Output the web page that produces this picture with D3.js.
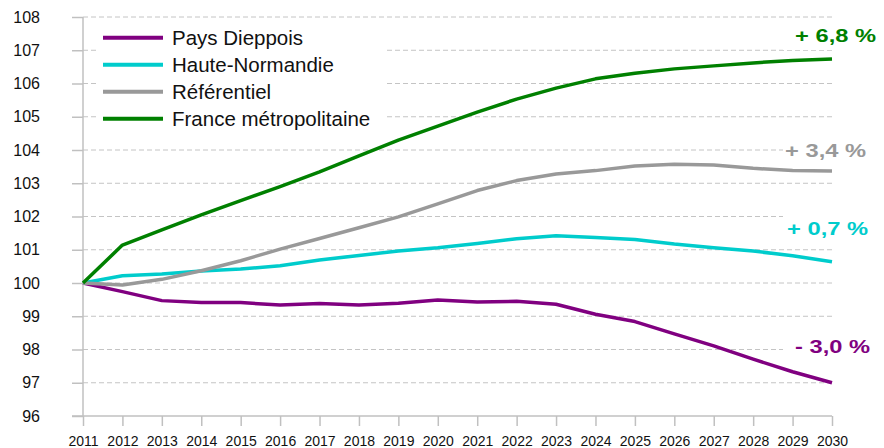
<!DOCTYPE html>
<html>
<head>
<meta charset="utf-8">
<script src="https://cdn.jsdelivr.net/npm/d3@7"></script>
<style>
  body { margin: 0; background: #fff; }
  svg { display: block; font-family: 'Liberation Sans', Arial, sans-serif; }
  .axis path, .axis line { stroke: #c0c0c0; stroke-width: 1.5; }
  .axis text { fill: #111; }
  .grid line { stroke: #c4c4c4; stroke-width: 1; stroke-dasharray: 5,3; }
</style>
</head>
<body>
<div id="chart"></div>
<script>
'use strict';

// years on the x axis
const years = [2011, 2012, 2013, 2014, 2015, 2016, 2017, 2018, 2019, 2020,
  2021, 2022, 2023, 2024, 2025, 2026, 2027, 2028, 2029, 2030];

// index base 100 in 2011
const paysDieppois = [100, 99.74, 99.47, 99.41, 99.41, 99.34, 99.38, 99.34, 99.39, 99.49,
  99.43, 99.45, 99.36, 99.06, 98.84, 98.47, 98.11, 97.71, 97.33, 97.0];
const hauteNormandie = [100, 100.22, 100.27, 100.36, 100.42, 100.52, 100.69, 100.83, 100.96, 101.06,
  101.19, 101.33, 101.42, 101.37, 101.31, 101.17, 101.06, 100.96, 100.82, 100.64];
const referentiel = [100, 99.94, 100.11, 100.37, 100.67, 101.02, 101.34, 101.66, 101.99, 102.38,
  102.78, 103.08, 103.28, 103.38, 103.52, 103.57, 103.55, 103.45, 103.38, 103.37];
const franceMetro = [100, 101.14, 101.6, 102.05, 102.48, 102.9, 103.34, 103.82, 104.3, 104.72,
  105.14, 105.53, 105.86, 106.14, 106.31, 106.44, 106.53, 106.62, 106.69, 106.74];

const seriesNames = ['Pays Dieppois', 'Haute-Normandie', 'Référentiel', 'France métropolitaine'];
const seriesValues = [paysDieppois, hauteNormandie, referentiel, franceMetro];
const seriesColours = ['#800080', '#00cccc', '#999999', '#008000'];
const endLabels = ['- 3,0 %', '+ 0,7 %', '+ 3,4 %', '+ 6,8 %'];

const yTicks = [96, 97, 98, 99, 100, 101, 102, 103, 104, 105, 106, 107, 108];

const width = 884;
const height = 448;

const svg = d3.select('#chart').append('svg')
  .attr('width', width)
  .attr('height', height);

const xScale = d3.scaleLinear().domain([2011, 2030]).range([83, 832]);
const yScale = d3.scaleLinear().domain([96, 108]).range([416, 17]);

// dashed grid
svg.append('g')
  .attr('class', 'grid')
  .selectAll('line')
  .data(yTicks.slice(1))
  .enter()
  .append('line')
  .attr('x1', xScale(2011))
  .attr('x2', xScale(2030))
  .attr('y1', d => yScale(d))
  .attr('y2', d => yScale(d));

// axes
const yAxis = d3.axisLeft(yScale)
  .tickValues(yTicks)
  .tickSize(11)
  .tickPadding(32)
  .tickFormat(d3.format('d'));

svg.append('g')
  .attr('class', 'axis')
  .attr('transform', 'translate(' + xScale(2011) + ',0)')
  .call(yAxis)
  .call(g => g.select('.domain').attr('d', 'M0,' + yScale(108) + 'V' + yScale(96)))
  .selectAll('text')
  .style('font-size', '16px');

const xAxis = d3.axisBottom(xScale)
  .tickValues(years)
  .tickSize(10)
  .tickPadding(10)
  .tickFormat(d3.format('d'));

svg.append('g')
  .attr('class', 'axis')
  .attr('transform', 'translate(0,' + yScale(96) + ')')
  .call(xAxis)
  .call(g => g.select('.domain').attr('d', 'M72,0H' + xScale(2030)))
  .selectAll('text')
  .style('font-size', '14px');

// legend box (hides the grid behind it)
const legend = svg.append('g');
legend.append('rect')
  .attr('x', 97)
  .attr('y', 24)
  .attr('width', 290)
  .attr('height', 110)
  .attr('fill', '#fff');

seriesNames.forEach((name, i) => {
  const ly = 37.7 + i * 27;
  legend.append('line')
    .attr('x1', 103).attr('x2', 163)
    .attr('y1', ly).attr('y2', ly)
    .attr('stroke', seriesColours[i])
    .attr('stroke-width', 4);
  legend.append('text')
    .attr('x', 172)
    .attr('y', ly + 7.3)
    .style('font-size', '20.5px')
    .attr('fill', '#111')
    .text(name);
});

// lines
const line = d3.line()
  .x((d, i) => xScale(years[i]))
  .y(d => yScale(d));

seriesValues.forEach((values, i) => {
  svg.append('path')
    .datum(values)
    .attr('fill', 'none')
    .attr('stroke', seriesColours[i])
    .attr('stroke-width', 3.5)
    .attr('stroke-linejoin', 'round')
    .attr('d', line);
});

// end labels (the source font is drawn wide, hence the x stretch)
const labelX = [870, 868, 866, 876];
const labelY = [353, 235, 157, 42];

endLabels.forEach((txt, i) => {
  svg.append('rect')
    .attr('x', 783)
    .attr('y', labelY[i] - 22)
    .attr('width', 100)
    .attr('height', 30)
    .attr('fill', '#fff');
  svg.append('text')
    .attr('transform', 'translate(' + labelX[i] + ',' + labelY[i] + ') scale(1.28,1)')
    .attr('text-anchor', 'end')
    .style('font-size', '18.5px')
    .style('font-weight', 'bold')
    .attr('fill', seriesColours[i])
    .text(txt);
});
</script>
</body>
</html>
